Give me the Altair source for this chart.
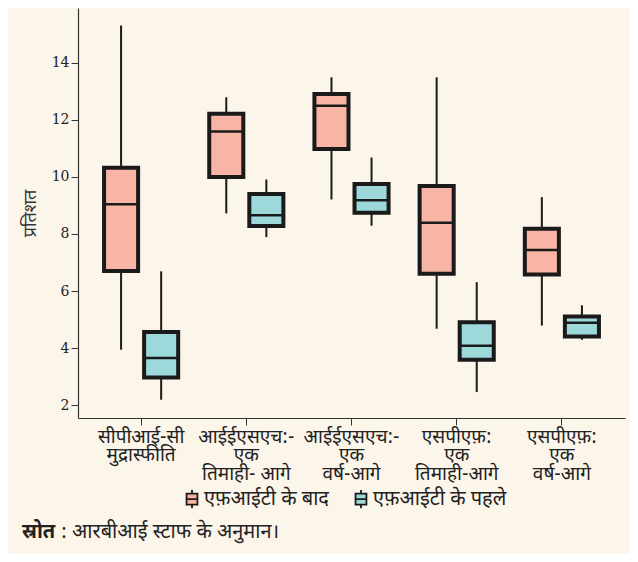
import altair as alt
import pandas as pd

categories = [
    "सीपीआई-सी|मुद्रास्फीति",
    "आईईएसएच:-|एक|तिमाही- आगे",
    "आईईएसएच:-|एक|वर्ष-आगे",
    "एसपीएफ़:|एक|तिमाही-आगे",
    "एसपीएफ़:|एक|वर्ष-आगे",
]
groups = ["एफ़आईटी के बाद", "एफ़आईटी के पहले"]

# after FIT (pink)
after_min = [3.94, 8.72, 9.21, 4.68, 4.79]
after_q1 = [6.70, 10.00, 10.98, 6.61, 6.58]
after_med = [9.04, 11.59, 12.49, 8.39, 7.44]
after_q3 = [10.32, 12.21, 12.91, 9.68, 8.18]
after_max = [15.31, 12.79, 13.49, 13.49, 9.29]

# before FIT (teal)
before_min = [2.19, 7.89, 8.29, 2.46, 4.29]
before_q1 = [2.97, 8.28, 8.74, 3.59, 4.41]
before_med = [3.65, 8.66, 9.18, 4.08, 4.89]
before_q3 = [4.56, 9.40, 9.75, 4.91, 5.11]
before_max = [6.69, 9.91, 10.68, 6.31, 5.50]

rows = []
for i, c in enumerate(categories):
    rows.append(dict(cat=c, grp=groups[0], lo=after_min[i], q1=after_q1[i],
                     med=after_med[i], q3=after_q3[i], hi=after_max[i]))
    rows.append(dict(cat=c, grp=groups[1], lo=before_min[i], q1=before_q1[i],
                     med=before_med[i], q3=before_q3[i], hi=before_max[i]))
df = pd.DataFrame(rows)

DEV = "Noto Sans Devanagari, Noto Sans, Lohit Devanagari, sans-serif"
INK = "#1a1a1a"
BG = "#fcf5ea"

x_enc = alt.X("cat:N", sort=categories, title=None,
              scale=alt.Scale(paddingInner=0, paddingOuter=0.1),
              axis=alt.Axis(labelExpr="split(datum.label, '|')", labelAngle=0,
                            labelFont=DEV, labelFontSize=19, labelLineHeight=18.5,
                            labelColor="#222", labelPadding=2, labelBaseline="top",
                            domainColor="#333", tickColor="#333", tickSize=7,
                            domainWidth=1.2))
xo_enc = alt.XOffset("grp:N", sort=groups,
                     scale=alt.Scale(paddingInner=0.15, paddingOuter=0.3875))
y_scale = alt.Scale(domain=[1.55, 15.92], nice=False, zero=False)
y_enc_axis = alt.Axis(values=[2, 4, 6, 8, 10, 12, 14], title="प्रतिशत",
                      grid=False, labelFont="DejaVu Serif", labelFontSize=14,
                      labelColor="#222", labelPadding=2, tickSize=7,
                      tickColor="#333", domainColor="#333", domainWidth=1.2,
                      titleFont=DEV, titleFontSize=18, titleFontWeight="normal",
                      titleColor="#333", titlePadding=12)

color = alt.Color("grp:N", sort=groups,
                  scale=alt.Scale(domain=groups, range=["#f8b5a5", "#9dd8db"]),
                  legend=alt.Legend(title=None, orient="none", direction="horizontal",
                                    legendX=104, legendY=481,
                                    symbolType="M-0.6,-0.6H0.6V0.6H-0.6Z M-0.6,0H0.6 M0,-0.6V-1 M0,0.6V1",
                                    symbolSize=330, symbolStrokeColor=INK,
                                    symbolStrokeWidth=1.8, symbolOpacity=1,
                                    labelFont=DEV, labelFontSize=20, labelColor="#222",
                                    labelOffset=2, columnPadding=22))

base = alt.Chart(df)

whisk = base.mark_rule(color=INK, strokeWidth=2).encode(
    x=x_enc, xOffset=xo_enc,
    y=alt.Y("lo:Q", scale=y_scale, axis=y_enc_axis), y2="hi:Q")

box = base.mark_bar(stroke=INK, strokeWidth=4, opacity=1).encode(
    x=x_enc, xOffset=xo_enc,
    y=alt.Y("q1:Q", scale=y_scale), y2="q3:Q", fill=color)

median = base.mark_tick(color=INK, thickness=2.5, size=34, orient="horizontal", opacity=1).encode(
    x=x_enc, xOffset=xo_enc, y=alt.Y("med:Q", scale=y_scale))

src_bold = alt.Chart(pd.DataFrame({"t": ["स्रोत"]})).mark_text(
    font=DEV, fontSize=20, fontWeight="bold", align="left", baseline="middle", color="#222"
).encode(text="t:N", x=alt.value(-56), y=alt.value(524))

src_rest = alt.Chart(pd.DataFrame({"t": [": आरबीआई स्टाफ के अनुमान।"]})).mark_text(
    font=DEV, fontSize=20, align="left", baseline="middle", color="#222"
).encode(text="t:N", x=alt.value(-17), y=alt.value(524))

chart = alt.layer(whisk, box, median, src_bold, src_rest).properties(
    width=547, height=410,
    padding={"left": 70, "top": 0, "right": 5, "bottom": 136},
    autosize=alt.AutoSizeParams(type="none"),
    background=BG,
).configure_view(stroke=None)

chart.save("out.html", embed_options={"renderer": "svg", "actions": False})
